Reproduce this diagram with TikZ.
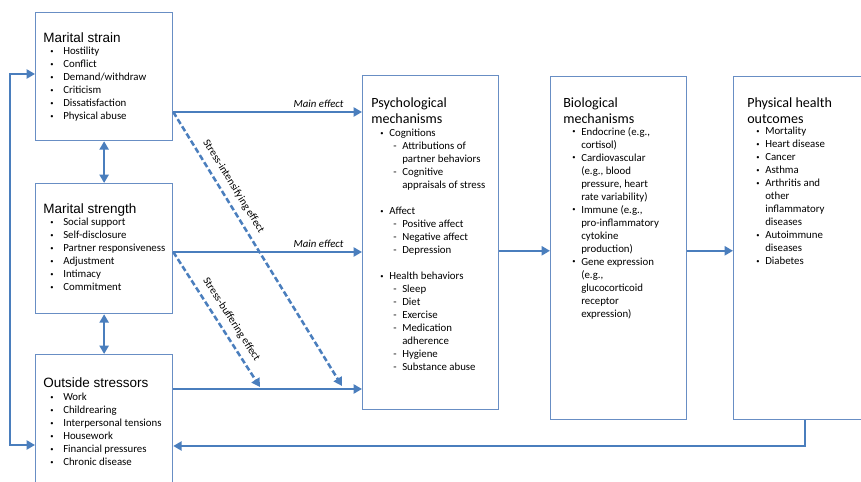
\documentclass[tikz,border=0pt]{standalone}
\usepackage{fontspec}
\setmainfont{Carlito}
\newfontfamily\headfont{Liberation Sans}
\usetikzlibrary{arrows.meta}
\definecolor{linkblue}{RGB}{74,126,189}
\definecolor{frameblue}{RGB}{104,142,196}
\newcommand\listfont{\fontsize{7.7pt}{9.25pt}\selectfont}
\newcommand\dotmark{\raisebox{0.3ex}{\scalebox{0.6}{\textbullet}}}
\newcommand\bul{\hspace*{0.18cm}\makebox[0.32cm][l]{\dotmark}}
\newcommand\mbul{\hspace*{0.23cm}\makebox[0.22cm][l]{\dotmark}}
\newcommand\mcont{\hspace*{0.45cm}}
\newcommand\subit{\hspace*{0.55cm}\makebox[0.225cm][l]{-}}
\newcommand\subcont{\hspace*{0.775cm}}
\tikzset{
  boxframe/.style={draw=frameblue, line width=0.9pt, inner sep=0pt, anchor=north west},
  boxhead/.style={anchor=north west, inner sep=0pt, align=left, font=\headfont\fontsize{9.6pt}{11.4pt}\selectfont},
  mechhead/.style={anchor=north west, inner sep=0pt, align=left, font=\fontsize{10pt}{11.4pt}\selectfont},
  itemlist/.style={anchor=north west, inner sep=0pt, align=left, font=\listfont},
  arrowline/.style={draw=linkblue, line width=1.8pt, -{Triangle[length=6pt,width=6.5pt]}},
  bothway/.style={draw=linkblue, line width=1.8pt, {Triangle[length=6pt,width=6.5pt]}-{Triangle[length=6pt,width=6.5pt]}},
  dashline/.style={arrowline, dash pattern=on 4pt off 2pt},
  effect/.style={font=\listfont\itshape, inner sep=2.5pt},
  slopetext/.style={font=\listfont, sloped, inner sep=2pt}
}
\begin{document}
\begin{tikzpicture}
\useasboundingbox (0,0) rectangle (21.525,-12.05);
\clip (0,0) rectangle (21.525,-12.05);

\node[boxframe, minimum width=3.425cm, minimum height=3.2cm] (strain) at (0.875,-0.3) {};
\node[boxframe, minimum width=3.425cm, minimum height=3.25cm] (strength) at (0.875,-4.575) {};
\node[boxframe, minimum width=3.425cm, minimum height=3.525cm] (stressors) at (0.875,-8.85) {};
\node[boxframe, minimum width=3.4cm, minimum height=8.35cm] (psych) at (9.05,-1.875) {};
\node[boxframe, minimum width=3.4cm, minimum height=8.575cm] (bio) at (13.75,-1.9) {};
\node[boxframe, minimum width=3.5cm, minimum height=8.575cm] (phys) at (18.325,-1.9) {};

\node[boxhead] (strainHead) at (1.075,-0.805) {Marital strain};
\node[itemlist] (strainList) at (1.075,-1.175) {\bul Hostility\\ \bul Conflict\\ \bul Demand/withdraw\\ \bul Criticism\\ \bul Dissatisfaction\\ \bul Physical abuse};

\node[boxhead] (strengthHead) at (1.075,-5.075) {Marital strength};
\node[itemlist] (strengthList) at (1.075,-5.45) {\bul Social support\\ \bul Self-disclosure\\ \bul Partner responsiveness\\ \bul Adjustment\\ \bul Intimacy\\ \bul Commitment};

\node[boxhead] (stressorsHead) at (1.075,-9.425) {Outside stressors};
\node[itemlist] (stressorsList) at (1.075,-9.825) {\bul Work\\ \bul Childrearing\\ \bul Interpersonal tensions\\ \bul Housework\\ \bul Financial pressures\\ \bul Chronic disease};

\node[mechhead] (psychHead) at (9.275,-2.425) {Psychological\\mechanisms};
\node[itemlist] (psychList) at (9.275,-3.225) {\mbul Cognitions\\ \subit Attributions of\\ \subcont partner behaviors\\ \subit Cognitive\\ \subcont appraisals of stress\\[9.25pt]
  \mbul Affect\\ \subit Positive affect\\ \subit Negative affect\\ \subit Depression\\[9.25pt]
  \mbul Health behaviors\\ \subit Sleep\\ \subit Diet\\ \subit Exercise\\ \subit Medication\\ \subcont adherence\\ \subit Hygiene\\ \subit Substance abuse};

\node[mechhead] (bioHead) at (14.075,-2.425) {Biological\\mechanisms};
\node[itemlist] (bioList) at (14.075,-3.175) {\mbul Endocrine (e.g.,\\ \mcont cortisol)\\ \mbul Cardiovascular\\ \mcont (e.g., blood\\ \mcont pressure, heart\\ \mcont rate variability)\\
  \mbul Immune (e.g.,\\ \mcont pro-inflammatory\\ \mcont cytokine\\ \mcont production)\\ \mbul Gene expression\\ \mcont (e.g.,\\ \mcont glucocorticoid\\ \mcont receptor\\ \mcont expression)};

\node[mechhead] (physHead) at (18.675,-2.425) {Physical health\\outcomes};
\node[itemlist] (physList) at (18.675,-3.175) {\mbul Mortality\\ \mbul Heart disease\\ \mbul Cancer\\ \mbul Asthma\\ \mbul Arthritis and\\ \mcont other\\ \mcont inflammatory\\ \mcont diseases\\ \mbul Autoimmune\\ \mcont diseases\\ \mbul Diabetes};

\coordinate (effA) at (0,-2.8);
\coordinate (effB) at (0,-6.3);
\coordinate (effC) at (0,-9.725);
\coordinate (intEnd) at (8.55,-9.65);
\coordinate (bufEnd) at (6.5,-9.675);
\coordinate (chainY) at (0,-6.27);
\coordinate (backDown) at (20.125,-11.15);
\coordinate (loopTop) at (0.25,-1.85);
\coordinate (loopBot) at (0.25,-11.125);

\draw[arrowline] (strain.east |- effA) -- (psych.west |- effA) node[effect, pos=0.77, above] (mainA) {Main effect};
\draw[arrowline] (strength.east |- effB) -- (psych.west |- effB) node[effect, pos=0.77, above] (mainB) {Main effect};
\draw[arrowline] (stressors.east |- effC) -- (psych.west |- effC);
\draw[dashline] (strain.east |- effA) -- (intEnd) node[slopetext, pos=0.295, above=2.5pt] (intLabel) {Stress-intensifying effect};
\draw[dashline] (strength.east |- effB) -- (bufEnd) node[slopetext, pos=0.55, above=2.5pt] (bufLabel) {Stress-buffering effect};

\draw[bothway] (strain) -- (strength);
\draw[bothway] (strength) -- (stressors);

\draw[arrowline] (psych.east |- chainY) -- (bio.west |- chainY);
\draw[arrowline] (bio.east |- chainY) -- (phys.west |- chainY);

\draw[arrowline] (phys.south -| backDown) -- (backDown) -- (stressors.east |- backDown);
\draw[bothway] (strain.west |- loopTop) -- (loopTop) -- (loopBot) -- (stressors.west |- loopBot);
\end{tikzpicture}
\end{document}
